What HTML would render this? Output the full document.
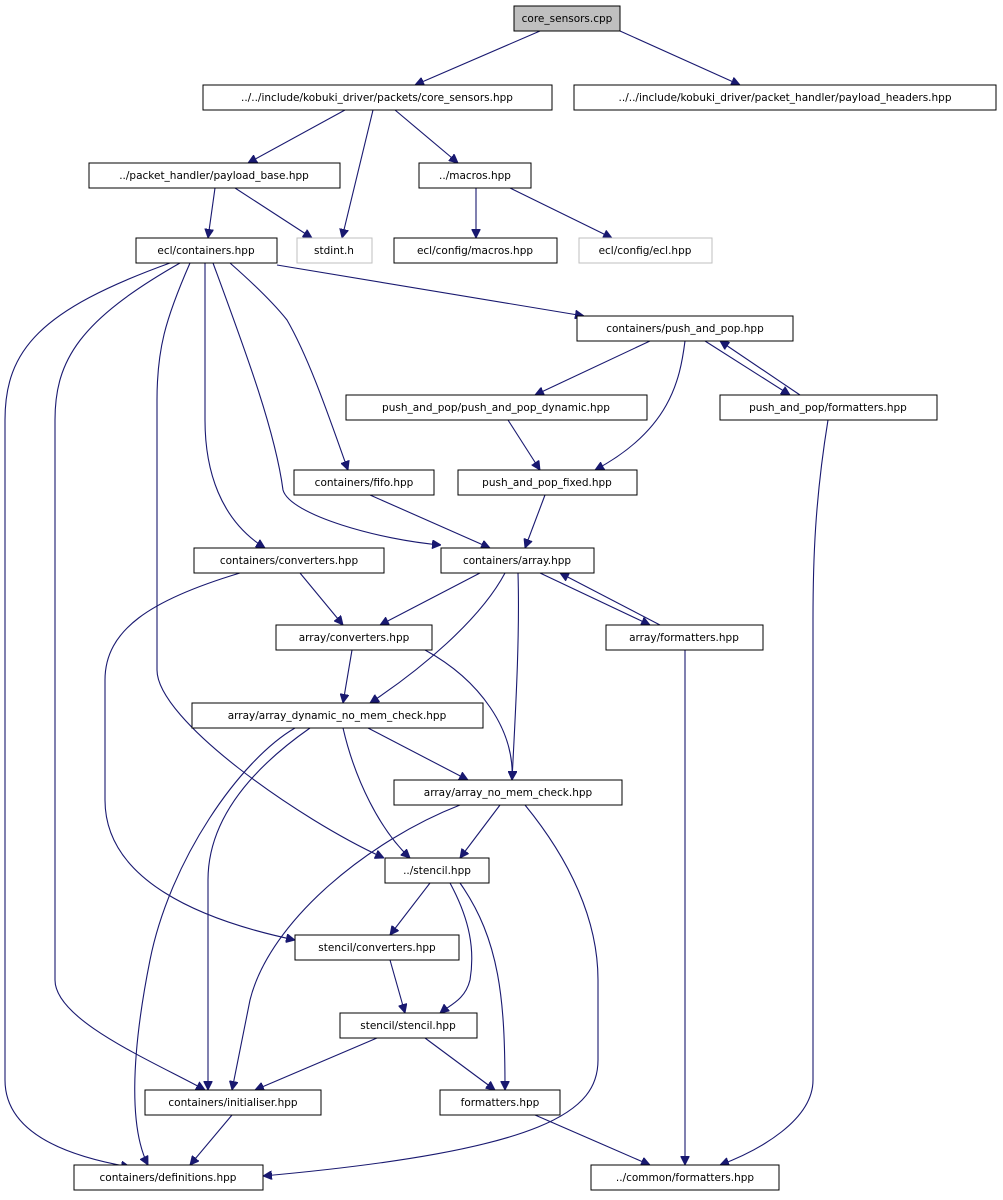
<!DOCTYPE html>
<html><head><meta charset="utf-8"><style>
html,body{margin:0;padding:0;background:#fff;}
svg{display:block;}
text{font-family:"DejaVu Sans","Liberation Sans",sans-serif;font-size:10.5px;fill:#000;}
.e{fill:none;stroke:#191970;stroke-width:1.1;marker-end:url(#a);}
.n{fill:#fff;stroke:#000;stroke-width:1;}
.g{fill:#fff;stroke:#bfbfbf;stroke-width:1;}
</style></head><body>
<svg width="1003" height="1200" viewBox="0 0 1003 1200" xmlns="http://www.w3.org/2000/svg">
<defs><marker id="a" viewBox="0 0 10 10" refX="10" refY="5" markerWidth="9" markerHeight="9" markerUnits="userSpaceOnUse" orient="auto"><path d="M0,0 L10,5 L0,10 z" fill="#191970" stroke="#191970"/></marker></defs>
<g>
<path class="e" d="M540,31 L415,85"/>
<path class="e" d="M620,31 L740,85"/>
<path class="e" d="M345,110 L248,163"/>
<path class="e" d="M373,110 L342,238"/>
<path class="e" d="M395,110 L458,163"/>
<path class="e" d="M215,188 L208,238"/>
<path class="e" d="M235,188 L312,238"/>
<path class="e" d="M476,188 L476,238"/>
<path class="e" d="M510,188 L612,238"/>
<path class="e" d="M277,265 L584,316"/>
<path class="e" d="M170,263 C40,310 5,350 5,420 L5,1080 C5,1130 60,1155 130,1167"/>
<path class="e" d="M180,263 C80,320 55,360 55,420 L55,980 C55,1020 150,1060 205,1090"/>
<path class="e" d="M190,263 C165,320 157,350 157,400 L157,670 C157,720 300,820 384,858"/>
<path class="e" d="M205,263 L205,420 C205,470 220,520 265,548"/>
<path class="e" d="M213,263 C245,350 275,430 283,490 C290,515 380,540 441,545"/>
<path class="e" d="M230,263 C255,285 275,305 287,320 C310,360 330,420 348,470"/>
<path class="e" d="M650,341 L535,395"/>
<path class="e" d="M685,341 C680,380 670,430 595,470"/>
<path class="e" d="M705,341 L790,395"/>
<path class="e" d="M800,395 L720,341"/>
<path class="e" d="M508,420 L540,470"/>
<path class="e" d="M828,420 C815,500 813,560 813,620 L813,1080 C813,1120 760,1150 720,1165"/>
<path class="e" d="M370,495 L490,548"/>
<path class="e" d="M545,495 L525,548"/>
<path class="e" d="M300,573 L343,625"/>
<path class="e" d="M240,573 C150,600 105,630 105,680 L105,800 C105,880 200,920 295,940"/>
<path class="e" d="M480,573 L380,625"/>
<path class="e" d="M505,573 C480,620 420,670 370,703"/>
<path class="e" d="M518,573 C520,640 515,720 512,780"/>
<path class="e" d="M540,573 L650,625"/>
<path class="e" d="M660,625 L560,573"/>
<path class="e" d="M685,650 L685,1165"/>
<path class="e" d="M352,650 L343,703"/>
<path class="e" d="M425,650 C480,680 515,730 512,780"/>
<path class="e" d="M295,728 C240,760 170,860 150,960 C130,1060 130,1130 148,1165"/>
<path class="e" d="M310,728 C250,770 208,820 208,880 L208,1090"/>
<path class="e" d="M343,728 C355,780 380,830 410,858"/>
<path class="e" d="M368,728 L468,780"/>
<path class="e" d="M500,805 L460,858"/>
<path class="e" d="M460,805 C370,840 270,920 250,1000 L232,1090"/>
<path class="e" d="M525,805 C570,860 598,920 598,980 L598,1060 C598,1110 550,1150 263,1176"/>
<path class="e" d="M430,883 L390,935"/>
<path class="e" d="M450,883 C470,920 475,950 470,980 C465,1000 450,1005 440,1013"/>
<path class="e" d="M460,883 C500,940 505,1000 505,1090"/>
<path class="e" d="M390,960 L405,1013"/>
<path class="e" d="M377,1038 L255,1090"/>
<path class="e" d="M425,1038 L495,1090"/>
<path class="e" d="M232,1115 L190,1165"/>
<path class="e" d="M535,1115 L650,1165"/>
</g>
<g text-anchor="middle">
<rect x="514" y="6" width="106" height="25" fill="#bfbfbf" stroke="#000"/><text x="567" y="22">core_sensors.cpp</text>
<rect class="n" x="203" y="85" width="349" height="25"/><text x="377" y="101">../../include/kobuki_driver/packets/core_sensors.hpp</text>
<rect class="n" x="574" y="85" width="422" height="25"/><text x="785" y="101">../../include/kobuki_driver/packet_handler/payload_headers.hpp</text>
<rect class="n" x="89" y="163" width="251" height="25"/><text x="214" y="179">../packet_handler/payload_base.hpp</text>
<rect class="g" x="297" y="238" width="75" height="25"/><text x="334" y="254">stdint.h</text>
<rect class="n" x="419" y="163" width="112" height="25"/><text x="475" y="179">../macros.hpp</text>
<rect class="n" x="394" y="238" width="163" height="25"/><text x="475" y="254">ecl/config/macros.hpp</text>
<rect class="g" x="579" y="238" width="133" height="25"/><text x="645" y="254">ecl/config/ecl.hpp</text>
<rect class="n" x="136" y="238" width="141" height="25"/><text x="206" y="254">ecl/containers.hpp</text>
<rect class="n" x="577" y="316" width="216" height="25"/><text x="685" y="332">containers/push_and_pop.hpp</text>
<rect class="n" x="346" y="395" width="301" height="25"/><text x="496" y="411">push_and_pop/push_and_pop_dynamic.hpp</text>
<rect class="n" x="720" y="395" width="217" height="25"/><text x="828" y="411">push_and_pop/formatters.hpp</text>
<rect class="n" x="294" y="470" width="140" height="25"/><text x="364" y="486">containers/fifo.hpp</text>
<rect class="n" x="458" y="470" width="179" height="25"/><text x="547" y="486">push_and_pop_fixed.hpp</text>
<rect class="n" x="194" y="548" width="190" height="25"/><text x="289" y="564">containers/converters.hpp</text>
<rect class="n" x="441" y="548" width="153" height="25"/><text x="517" y="564">containers/array.hpp</text>
<rect class="n" x="276" y="625" width="156" height="25"/><text x="354" y="641">array/converters.hpp</text>
<rect class="n" x="606" y="625" width="157" height="25"/><text x="684" y="641">array/formatters.hpp</text>
<rect class="n" x="192" y="703" width="291" height="25"/><text x="337" y="719">array/array_dynamic_no_mem_check.hpp</text>
<rect class="n" x="394" y="780" width="228" height="25"/><text x="508" y="796">array/array_no_mem_check.hpp</text>
<rect class="n" x="385" y="858" width="104" height="25"/><text x="437" y="874">../stencil.hpp</text>
<rect class="n" x="295" y="935" width="164" height="25"/><text x="377" y="951">stencil/converters.hpp</text>
<rect class="n" x="340" y="1013" width="137" height="25"/><text x="408" y="1029">stencil/stencil.hpp</text>
<rect class="n" x="145" y="1090" width="176" height="25"/><text x="233" y="1106">containers/initialiser.hpp</text>
<rect class="n" x="440" y="1090" width="120" height="25"/><text x="500" y="1106">formatters.hpp</text>
<rect class="n" x="74" y="1165" width="189" height="25"/><text x="168" y="1181">containers/definitions.hpp</text>
<rect class="n" x="591" y="1165" width="188" height="25"/><text x="685" y="1181">../common/formatters.hpp</text>
</g>
</svg>
</body></html>
